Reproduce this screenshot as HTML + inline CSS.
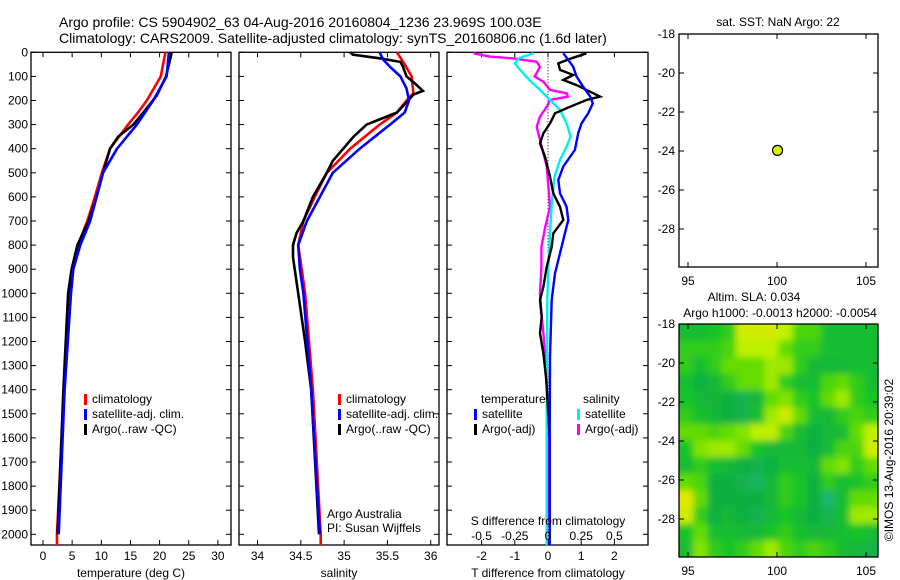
<!DOCTYPE html>
<html><head><meta charset="utf-8"><style>
html,body{margin:0;padding:0;background:#fff}
svg{display:block}
text{font-family:"Liberation Sans",sans-serif;fill:#000}
</style></head><body>
<svg id="fig" width="900" height="580" viewBox="0 0 900 580" xmlns="http://www.w3.org/2000/svg">
<defs><filter id="blur" x="0" y="0" width="1" height="1"><feGaussianBlur stdDeviation="3.5"/></filter>
<clipPath id="mapclip"><rect x="679" y="324" width="199" height="233"/></clipPath></defs>
<text x="59" y="27" font-size="14">Argo profile: CS 5904902_63 04-Aug-2016 20160804_1236 23.969S 100.03E</text>
<text x="59" y="43" font-size="14">Climatology: CARS2009. Satellite-adjusted climatology: synTS_20160806.nc (1.6d later)</text>
</svg>
<script>
// ---------- data ----------
const depthTicks=[0,100,200,300,400,500,600,700,800,900,1000,1100,1200,1300,1400,1500,1600,1700,1800,1900,2000];
const tempTicks=[0,5,10,15,20,25,30];
const salTicks=[34,34.5,35,35.5,36];
const salTickLabels=["34","34.5","35","35.5","36"];
const tdiffTicks=[-2,-1,0,1,2];
const sdiffTicks=[-0.5,-0.25,0,0.25,0.5];
const sdiffTickLabels=["-0.5","-0.25","0","0.25","0.5"];

const tArgoDepth=[0,100,180,250,300,350,400,500,600,700,800,900,1000,1400,2000];
const tArgo=[22.1,21.1,19.5,17.2,15.5,12.9,11.5,10.3,9.2,7.8,5.9,4.9,4.3,3.5,2.5];
const tClimDepth=[0,100,200,250,300,400,500,600,700,800,900,1000,1400,2000,2045];
const tClim=[21.0,20.2,17.8,16.3,14.6,11.5,10.1,8.9,7.6,6.0,5.1,4.6,3.6,2.4,2.4];
const tSatDepth=[0,100,200,300,400,500,600,700,800,900,1000,1400,2000];
const tSat=[21.6,21.2,18.9,16.1,12.7,10.3,9.2,8.1,6.4,5.2,4.8,3.7,2.7];

const sArgoDepth=[0,10,25,40,60,100,130,160,175,200,250,300,350,400,450,500,600,700,750,800,850,900,1000,1200,1400,2000];
const sArgo=[35.07,35.10,35.41,35.65,35.68,35.72,35.82,35.91,35.80,35.74,35.61,35.26,35.11,34.99,34.87,34.80,34.64,34.53,34.45,34.41,34.41,34.43,34.47,34.55,34.62,34.71];
const sClimDepth=[0,50,100,170,200,250,300,400,500,600,700,800,900,1000,1400,2000,2045];
const sClim=[35.61,35.70,35.78,35.80,35.72,35.61,35.41,35.07,34.80,34.66,34.53,34.47,34.51,34.55,34.64,34.73,34.73];
const sSatDepth=[0,30,60,100,150,200,250,300,400,500,600,700,800,900,1000,1400,2000];
const sSat=[35.41,35.45,35.53,35.65,35.72,35.75,35.70,35.53,35.18,34.87,34.72,34.57,34.47,34.49,34.53,34.62,34.72];

const dTSatDepth=[4,32,60,101,143,184,212,253,295,336,405,474,530,585,641,696,751,834,917,1028,1166,1263,1600,2045];
const dTSat=[0.46,0.61,0.76,0.86,1.06,1.27,1.35,1.21,1.01,0.91,0.81,0.46,0.31,0.36,0.56,0.61,0.51,0.36,0.21,0.11,0.08,0.06,0.05,0.05];
const dTArgoDepth=[4,25,46,73,94,115,136,156,184,198,226,253,295,336,378,433,516,585,641,696,751,807,890,973,1028,1097,1166,1249,1360,1600,2000];
const dTArgo=[1.16,0.71,0.31,0.36,0.76,0.46,0.86,1.16,1.57,1.16,0.66,0.21,0.06,-0.14,-0.24,-0.09,0.06,0.16,0.36,0.46,0.16,0.11,-0.04,-0.14,-0.24,-0.19,-0.24,-0.14,-0.05,0.05,0.05];
const dSSatDepth=[4,25,46,73,115,156,198,239,295,350,392,447,516,613,751,890,1028,1500,2045];
const dSSat=[-0.11,-0.22,-0.25,-0.21,-0.14,-0.06,0.015,0.09,0.14,0.17,0.14,0.09,0.05,0.03,0.015,0.003,-0.005,-0.01,-0.01];
const dSArgoDepth=[4,18,25,39,60,101,122,156,170,184,198,226,267,309,364,419,474,558,641,724,807,890,1000,1083,1166,1263,1500,1950];
const dSArgo=[-0.56,-0.44,-0.27,-0.085,-0.06,-0.10,-0.035,0.015,0.14,0.15,0.015,-0.01,-0.06,-0.085,-0.06,-0.035,-0.01,0.003,0.015,-0.02,-0.05,-0.05,-0.06,-0.05,-0.035,-0.02,0.0,0.0];

const argoLon=[100.03], argoLat=[-23.969];
const mapLonTicks=[95,100,105];
const mapLatTicks=[-18,-20,-22,-24,-26,-28];
// SLA field, 14 rows (north->south) x 14 cols (west->east), relative 0..1
const slaGrid=[
[0.4,0.4,0.45,0.5,0.8,0.8,0.8,0.75,0.55,0.55,0.4,0.4,0.4,0.4],
[0.5,0.5,0.5,0.55,0.75,0.75,0.75,0.6,0.5,0.5,0.4,0.4,0.4,0.4],
[0.5,0.4,0.5,0.6,0.6,0.6,0.7,0.7,0.5,0.35,0.35,0.35,0.4,0.4],
[0.4,0.3,0.35,0.5,0.6,0.6,0.7,0.5,0.4,0.4,0.55,0.6,0.5,0.4],
[0.45,0.35,0.35,0.3,0.25,0.35,0.6,0.65,0.5,0.45,0.6,0.7,0.5,0.45],
[0.5,0.4,0.35,0.3,0.25,0.4,0.7,0.8,0.6,0.4,0.35,0.5,0.55,0.5],
[0.6,0.6,0.55,0.6,0.65,0.75,0.75,0.55,0.4,0.3,0.35,0.4,0.6,0.75],
[0.45,0.65,0.7,0.7,0.6,0.45,0.35,0.35,0.35,0.3,0.4,0.55,0.55,0.8],
[0.4,0.5,0.4,0.35,0.3,0.25,0.3,0.4,0.4,0.35,0.6,0.65,0.5,0.6],
[0.6,0.55,0.3,0.3,0.25,0.2,0.35,0.5,0.45,0.3,0.5,0.4,0.45,0.5],
[0.85,0.6,0.3,0.3,0.3,0.3,0.35,0.5,0.45,0.3,0.15,0.4,0.6,0.6],
[0.8,0.5,0.3,0.35,0.3,0.25,0.35,0.45,0.35,0.3,0.25,0.4,0.7,0.7],
[0.45,0.6,0.4,0.4,0.35,0.35,0.45,0.5,0.4,0.35,0.35,0.4,0.45,0.4],
[0.4,0.65,0.5,0.45,0.5,0.6,0.7,0.55,0.5,0.55,0.5,0.4,0.35,0.25]];

// ---------- helpers ----------
const svg=document.getElementById('fig');
const NS='http://www.w3.org/2000/svg';
function mk(tag,attrs,parent){const e=document.createElementNS(NS,tag);for(const k in attrs)e.setAttribute(k,attrs[k]);(parent||svg).appendChild(e);return e;}
function txt(x,y,s,size,anchor){const t=mk('text',{x:x,y:y,'font-size':size||12,'text-anchor':anchor||'start'});t.textContent=s;return t;}

const Y0=52.3, YS=0.241, PB=545;
const yD=d=>Y0+d*YS;
const panels={
 temp:{l:31,r:231,x:v=>43+5.83*v},
 sal:{l:239,r:439,x:v=>257.5+86.6*(v-34)},
 diff:{l:447,r:648,x:v=>548+33.2*v}
};
const xS=v=>548+132.8*v;

function frame(p,name){
 const r=mk('rect',{x:p.l,y:Y0,width:p.r-p.l,height:PB-Y0,fill:'none',stroke:'#000','stroke-width':1.3});
 
 
 depthTicks.forEach(d=>{const y=yD(d);mk('line',{x1:p.l,x2:p.l+5,y1:y,y2:y,stroke:'#000'});mk('line',{x1:p.r,x2:p.r-5,y1:y,y2:y,stroke:'#000'});});
}
function xticks(p,vals,labels,yl){
 vals.forEach((v,i)=>{const x=p.x(v);mk('line',{x1:x,x2:x,y1:PB,y2:PB-5,stroke:'#000'});mk('line',{x1:x,x2:x,y1:Y0,y2:Y0+5,stroke:'#000'});
  const t=txt(x,yl,labels[i],12,'middle');
  
  });
}
function series(p,xf,depths,vals,color,w,name){
 const pts=depths.map((d,i)=>xf(vals[i]).toFixed(1)+','+yD(d).toFixed(1)).join(' ');
 const pl=mk('polyline',{points:pts,fill:'none',stroke:color,'stroke-width':w,'stroke-linejoin':'miter'});
 
 
}
function legend(x,y,color,label){
 mk('rect',{x:x,y:y-9,width:3,height:11,fill:color});
 const t=txt(x+8,y,label,12);
 
 
}

// ---------- temperature panel ----------
const P1=panels.temp;
frame(P1,'temperature-panel');
depthTicks.forEach(d=>{const t=txt(28,yD(d)+4,String(d),12,'end');
 
 });
xticks(P1,tempTicks,tempTicks.map(String),560);
series(P1,P1.x,tClimDepth,tClim,'#ff0000',2.6,'temp-climatology-line');
series(P1,P1.x,tArgoDepth,tArgo,'#000000',2.6,'temp-argo-line');
series(P1,P1.x,tSatDepth,tSat,'#0000ff',2.6,'temp-satellite-line');
legend(84,403,'#ff0000','climatology');
legend(84,418,'#0000ff','satellite-adj. clim.');
legend(84,433,'#000000','Argo(..raw -QC)');
{const t=txt(131,577,'temperature (deg C)',12,'middle');}

// ---------- salinity panel ----------
const P2=panels.sal;
frame(P2,'salinity-panel');
xticks(P2,salTicks,salTickLabels,560);
series(P2,P2.x,sClimDepth,sClim,'#ff0000',2.6,'sal-climatology-line');
series(P2,P2.x,sArgoDepth,sArgo,'#000000',2.6,'sal-argo-line');
series(P2,P2.x,sSatDepth,sSat,'#0000ff',2.6,'sal-satellite-line');
legend(338,403,'#ff0000','climatology');
legend(338,418,'#0000ff','satellite-adj. clim.');
legend(338,433,'#000000','Argo(..raw -QC)');
txt(327,518,'Argo Australia',12);
txt(327,532,'PI: Susan Wijffels',12);
{const t=txt(339,577,'salinity',12,'middle');}

// ---------- difference panel ----------
const P3=panels.diff;
frame(P3,'difference-panel');
xticks(P3,tdiffTicks,tdiffTicks.map(String),560);
mk('line',{x1:548,x2:548,y1:Y0,y2:PB,stroke:'#000','stroke-dasharray':'1,2'});
series(P3,xS,dSArgoDepth,dSArgo,'#ff00ff',2.4,'sdiff-argo-line');
series(P3,xS,dSSatDepth,dSSat,'#00eeee',2.4,'sdiff-satellite-line');
series(P3,P3.x,dTArgoDepth,dTArgo,'#000000',2.4,'tdiff-argo-line');
series(P3,P3.x,dTSatDepth,dTSat,'#0000ff',2.4,'tdiff-satellite-line');
txt(481,403,'temperature',12);
legend(474,418,'#0000ff','satellite');
legend(474,433,'#000000','Argo(-adj)');
txt(583,403,'salinity',12);
legend(577,418,'#00eeee','satellite');
legend(577,433,'#ff00ff','Argo(-adj)');
txt(548,525,'S difference from climatology',12,'middle');
sdiffTicks.forEach((v,i)=>{const t=txt(xS(v),540,sdiffTickLabels[i],12,'middle');});
{const t=txt(548,577,'T difference from climatology',12,'middle');}

// ---------- maps ----------
const lonX=v=>688+17.8*(v-95);
function mapFrame(top,bottom,name){
 const latY=v=>top+19.5*(-18-v);
 const r=mk('rect',{x:679,y:top,width:199,height:bottom-top,fill:'none',stroke:'#000','stroke-width':1.3});
 
 
 mapLatTicks.forEach(v=>{const y=latY(v);mk('line',{x1:679,x2:684,y1:y,y2:y,stroke:'#000'});mk('line',{x1:878,x2:873,y1:y,y2:y,stroke:'#000'});txt(675,y+4,String(v),12,'end');});
 mapLonTicks.forEach(v=>{const x=lonX(v);mk('line',{x1:x,x2:x,y1:bottom,y2:bottom-5,stroke:'#000'});mk('line',{x1:x,x2:x,y1:top,y2:top+5,stroke:'#000'});txt(x,bottom+18,String(v),12,'middle');});
 return latY;
}
// top map
txt(778,26,'sat. SST: NaN Argo: 22',12,'middle');
const latY1=mapFrame(34,267,'location-map');
argoLon.forEach((lo,i)=>{const c=mk('circle',{cx:lonX(lo),cy:latY1(argoLat[i]),r:5,fill:'#d8f000',stroke:'#000','stroke-width':1.2});
 
 });

// bottom SLA map
txt(754,301,'Altim. SLA: 0.034',12,'middle');
txt(780,317,'Argo h1000: -0.0013 h2000: -0.0054',12,'middle');
const stops=[[0.1,[32,184,128]],[0.3,[16,176,64]],[0.45,[24,196,40]],[0.6,[100,220,0]],[0.75,[190,240,0]],[0.9,[240,228,0]]];
function cmap(v){if(v<=stops[0][0])return stops[0][1];for(let i=1;i<stops.length;i++){if(v<=stops[i][0]){const a=stops[i-1],b=stops[i],t=(v-a[0])/(b[0]-a[0]);return a[1].map((c,k)=>Math.round(c+(b[1][k]-c)*t));}}return stops[stops.length-1][1];}
const g=mk('g',{'clip-path':'url(#mapclip)'});


const gb=mk('g',{filter:'url(#blur)'},g);
const nr=slaGrid.length,nc=slaGrid[0].length,cw=199/nc,ch=233/nr;
slaGrid.forEach((row,ri)=>row.forEach((v,ci)=>{const c=cmap(v);
 const cell=mk('rect',{x:679+ci*cw-(ci==0?8:0),y:324+ri*ch-(ri==0?8:0),width:cw+0.6+(ci==0||ci==nc-1?8:0),height:ch+0.6+(ri==0||ri==nr-1?8:0),fill:'rgb('+c.join(',')+')'},gb);
 
 }));
mapFrame(324,557,'sla-map');
{const t=txt(0,0,'©IMOS 13-Aug-2016 20:39:02',12,'middle');t.setAttribute('transform','translate(893,460) rotate(-90)');}
</script>
</body></html>
